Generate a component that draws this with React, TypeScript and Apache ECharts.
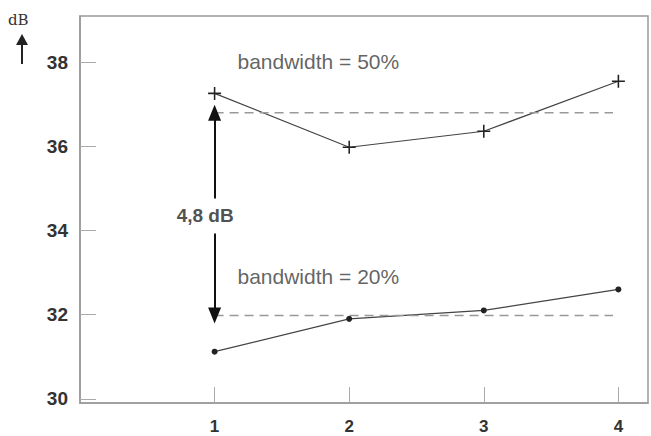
import React, { useEffect, useRef } from "react";
import * as echarts from "echarts";

const xTicks = [1, 2, 3, 4];
const yTicks = [30, 32, 34, 36, 38];
const bw50: [number, number][] = [[1, 37.26], [2, 35.98], [3, 36.36], [4, 37.55]];
const bw20: [number, number][] = [[1, 31.12], [2, 31.9], [3, 32.1], [4, 32.6]];
const ref50: [number, number][] = [[1, 36.8], [3.96, 36.8]];
const ref20: [number, number][] = [[1, 31.98], [3.96, 31.98]];
const arrowTop: [number, number][] = [[1, 34.76], [1, 36.8]];
const arrowBottom: [number, number][] = [[1, 33.93], [1, 31.98]];
const labels: { text: string; x: number; y: number; align: string }[] = [
  { text: "bandwidth = 50%", x: 1.17, y: 38.02, align: "left" },
  { text: "bandwidth = 20%", x: 1.17, y: 32.9, align: "left" },
  { text: "4,8 dB", x: 0.93, y: 34.36, align: "center" },
];

const FONT = "'Liberation Sans', Arial, sans-serif";
const plus = "path://M4.4,0h1.2v4.4h4.4v1.2h-4.4v4.4h-1.2v-4.4h-4.4v-1.2h4.4z";

export default function App() {
  const ref = useRef<HTMLDivElement>(null);
  useEffect(() => {
    const chart = echarts.init(ref.current!, null, { renderer: "svg" });
    chart.setOption({
      animation: false,
      backgroundColor: "#fff",
      grid: {
        left: 80, top: 16, right: 3, bottom: 33,
        show: true, borderColor: "#9a9a9a", borderWidth: 1.5,
      },
      xAxis: {
        type: "value", min: 0, max: 4.22,
        axisLine: { show: true, lineStyle: { color: "#9a9a9a", width: 1.5 } },
        splitLine: { show: false },
        axisTick: { show: true, inside: true, length: 16, customValues: xTicks, lineStyle: { color: "#aaa", width: 1 } },
        axisLabel: { customValues: xTicks, margin: 15, fontSize: 17, fontFamily: FONT, color: "#333", fontWeight: "bold" },
      },
      yAxis: {
        type: "value", min: 29.9, max: 39.1,
        axisLine: { show: true, lineStyle: { color: "#9a9a9a", width: 1.5 } },
        splitLine: { show: false },
        axisTick: { show: true, inside: true, length: 16, customValues: yTicks, lineStyle: { color: "#aaa", width: 1 } },
        axisLabel: { customValues: yTicks, margin: 12, fontSize: 19, fontFamily: FONT, color: "#333", fontWeight: "bold" },
      },
      series: [
        {
          type: "line", data: bw50, symbol: plus, symbolSize: 13,
          itemStyle: { color: "#222" }, lineStyle: { color: "#444", width: 1.2 },
        },
        {
          type: "line", data: bw20, symbol: "circle", symbolSize: 6,
          itemStyle: { color: "#222" }, lineStyle: { color: "#444", width: 1.2 },
        },
        { type: "line", data: ref50, symbol: "none", lineStyle: { color: "#999", width: 1.5, type: [9, 6] } },
        { type: "line", data: ref20, symbol: "none", lineStyle: { color: "#999", width: 1.5, type: [9, 6] } },
        {
          type: "line", data: [], symbol: "none",
          markLine: {
            silent: true, symbol: ["none", "triangle"], symbolSize: [13, 16],
            label: { show: false },
            lineStyle: { color: "#111", width: 2, type: "solid" },
            data: [
              [{ coord: arrowTop[0] }, { coord: arrowTop[1] }],
              [{ coord: arrowBottom[0] }, { coord: arrowBottom[1] }],
            ],
          },
        },
        {
          type: "scatter", symbolSize: 0,
          data: labels.map((l) => ({
            value: [l.x, l.y],
            label: {
              show: true, formatter: l.text, position: "inside", align: l.align,
              verticalAlign: "middle", fontSize: l.text === "4,8 dB" ? 19 : 21, fontFamily: FONT,
              color: l.text === "4,8 dB" ? "#222" : "#3a3a3a",
              fontWeight: l.text === "4,8 dB" ? "bold" : "normal",
            },
          })),
        },
      ],
      graphic: [
        { type: "text", left: 8, top: 12, style: { text: "dB", font: "15px 'DejaVu Serif', serif", fill: "#333" } },
        { type: "line", shape: { x1: 22, y1: 40, x2: 22, y2: 64 }, style: { stroke: "#222", lineWidth: 2 } },
        { type: "polygon", shape: { points: [[16, 45], [22, 34], [28, 45]] }, style: { fill: "#222" } },
      ],
    });
    return () => chart.dispose();
  }, []);
  return <div ref={ref} style={{ width: 651, height: 436, position: "absolute", left: 0, top: 0 }} />;
}
